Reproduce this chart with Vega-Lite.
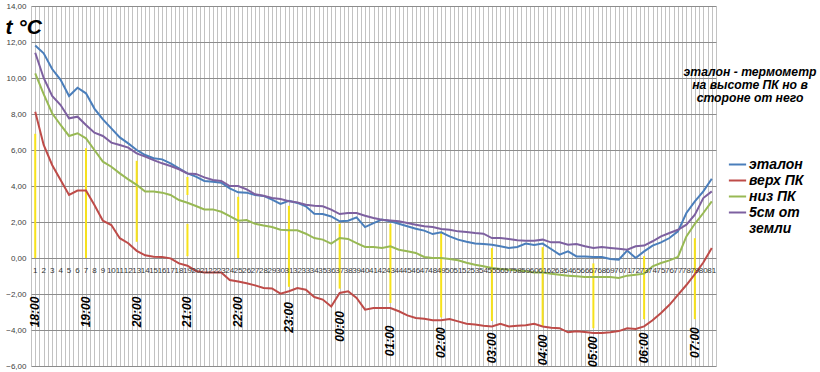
{
  "$schema": "https://vega.github.io/schema/vega-lite/v6.json",
  "autosize": {"type": "none"},
  "padding": {"left": 31, "top": 6, "right": 104, "bottom": 6},
  "width": 685,
  "height": 360,
  "background": "white",
  "config": {"view": {"stroke": null}, "font": "Liberation Sans"},
  "title": {
    "text": ["эталон - термометр", "на высоте ПК но в", "стороне от него"],
    "orient": "top",
    "anchor": "end",
    "align": "center",
    "frame": "group",
    "baseline": "top",
    "offset": 0,
    "dx": 34,
    "dy": 102,
    "font": "Liberation Sans",
    "fontSize": 12.2,
    "fontWeight": "bold",
    "fontStyle": "italic",
    "lineHeight": 13,
    "color": "#000000"
  },
  "datasets": {
    "temps": [
      {"n":1,"эталон":11.8,"верх ПК":8.13,"низ ПК":10.26,"5см от земли":11.4},
      {"n":2,"эталон":11.37,"верх ПК":6.28,"низ ПК":9.1,"5см от земли":10.0},
      {"n":3,"эталон":10.5,"верх ПК":5.17,"низ ПК":8.04,"5см от земли":9.0},
      {"n":4,"эталон":9.9,"верх ПК":4.33,"низ ПК":7.39,"5см от земли":8.5},
      {"n":5,"эталон":9.0,"верх ПК":3.5,"низ ПК":6.78,"5см от земли":7.76},
      {"n":6,"эталон":9.46,"верх ПК":3.75,"низ ПК":6.93,"5см от земли":7.85},
      {"n":7,"эталон":9.15,"верх ПК":3.75,"низ ПК":6.65,"5см от земли":7.39},
      {"n":8,"эталон":8.3,"верх ПК":2.94,"низ ПК":6.0,"5см от земли":6.96},
      {"n":9,"эталон":7.7,"верх ПК":2.07,"низ ПК":5.35,"5см от земли":6.78},
      {"n":10,"эталон":7.2,"верх ПК":1.83,"низ ПК":5.07,"5см от земли":6.41},
      {"n":11,"эталон":6.7,"верх ПК":1.1,"низ ПК":4.7,"5см от земли":6.28},
      {"n":12,"эталон":6.37,"верх ПК":0.82,"низ ПК":4.37,"5см от земли":6.13},
      {"n":13,"эталон":6.0,"верх ПК":0.4,"низ ПК":4.06,"5см от земли":5.81},
      {"n":14,"эталон":5.72,"верх ПК":0.15,"низ ПК":3.69,"5см от земли":5.63},
      {"n":15,"эталон":5.54,"верх ПК":0.07,"низ ПК":3.69,"5см от земли":5.44},
      {"n":16,"эталон":5.48,"верх ПК":0.06,"низ ПК":3.63,"5см от земли":5.26},
      {"n":17,"эталон":5.26,"верх ПК":-0.02,"низ ПК":3.5,"5см от земли":5.11},
      {"n":18,"эталон":4.98,"верх ПК":-0.3,"низ ПК":3.22,"5см от земли":4.93},
      {"n":19,"эталон":4.7,"верх ПК":-0.43,"низ ПК":3.07,"5см от земли":4.7},
      {"n":20,"эталон":4.52,"верх ПК":-0.72,"низ ПК":2.89,"5см от земли":4.67},
      {"n":21,"эталон":4.28,"верх ПК":-0.81,"низ ПК":2.7,"5см от земли":4.48},
      {"n":22,"эталон":4.24,"верх ПК":-0.81,"низ ПК":2.7,"5см от земли":4.33},
      {"n":23,"эталон":4.18,"верх ПК":-0.81,"низ ПК":2.57,"5см от земли":4.28},
      {"n":24,"эталон":3.87,"верх ПК":-1.22,"низ ПК":2.33,"5см от земли":4.0},
      {"n":25,"эталон":3.65,"верх ПК":-1.31,"низ ПК":2.07,"5см от земли":4.0},
      {"n":26,"эталон":3.63,"верх ПК":-1.4,"низ ПК":2.11,"5см от земли":3.81},
      {"n":27,"эталон":3.5,"верх ПК":-1.52,"низ ПК":1.9,"5см от земли":3.54},
      {"n":28,"эталон":3.45,"верх ПК":-1.67,"низ ПК":1.8,"5см от земли":3.46},
      {"n":29,"эталон":3.24,"верх ПК":-1.69,"низ ПК":1.72,"5см от земли":3.33},
      {"n":30,"эталон":3.0,"верх ПК":-1.98,"низ ПК":1.57,"5см от земли":3.28},
      {"n":31,"эталон":3.18,"верх ПК":-1.85,"низ ПК":1.54,"5см от земли":3.15},
      {"n":32,"эталон":3.06,"верх ПК":-1.67,"низ ПК":1.54,"5см от земли":3.09},
      {"n":33,"эталон":2.87,"верх ПК":-1.76,"низ ПК":1.35,"5см от земли":2.96},
      {"n":34,"эталон":2.46,"верх ПК":-2.17,"низ ПК":1.11,"5см от земли":2.9},
      {"n":35,"эталон":2.44,"верх ПК":-2.31,"низ ПК":1.02,"5см от земли":2.87},
      {"n":36,"эталон":2.31,"верх ПК":-2.69,"низ ПК":0.8,"5см от земли":2.69},
      {"n":37,"эталон":2.04,"верх ПК":-1.94,"низ ПК":1.11,"5см от земли":2.44},
      {"n":38,"эталон":2.07,"верх ПК":-1.85,"низ ПК":1.06,"5см от земли":2.5},
      {"n":39,"эталон":2.26,"верх ПК":-2.22,"низ ПК":0.83,"5см от земли":2.5},
      {"n":40,"эталон":1.72,"верх ПК":-2.87,"низ ПК":0.61,"5см от земли":2.35},
      {"n":41,"эталон":1.94,"верх ПК":-2.78,"низ ПК":0.61,"5см от земли":2.22},
      {"n":42,"эталон":2.13,"верх ПК":-2.78,"низ ПК":0.56,"5см от земли":2.13},
      {"n":43,"эталон":2.04,"верх ПК":-2.78,"низ ПК":0.65,"5см от земли":2.09},
      {"n":44,"эталон":1.9,"верх ПК":-2.96,"низ ПК":0.46,"5см от земли":2.04},
      {"n":45,"эталон":1.76,"верх ПК":-3.19,"низ ПК":0.37,"5см от земли":1.94},
      {"n":46,"эталон":1.63,"верх ПК":-3.33,"низ ПК":0.28,"5см от земли":1.85},
      {"n":47,"эталон":1.52,"верх ПК":-3.37,"низ ПК":0.06,"5см от земли":1.76},
      {"n":48,"эталон":1.33,"верх ПК":-3.46,"низ ПК":0.0,"5см от земли":1.72},
      {"n":49,"эталон":1.43,"верх ПК":-3.46,"низ ПК":0.0,"5см от земли":1.61},
      {"n":50,"эталон":1.2,"верх ПК":-3.39,"низ ПК":-0.06,"5см от земли":1.57},
      {"n":51,"эталон":1.02,"верх ПК":-3.52,"низ ПК":-0.13,"5см от земли":1.48},
      {"n":52,"эталон":0.9,"верх ПК":-3.65,"низ ПК":-0.26,"5см от земли":1.45},
      {"n":53,"эталон":0.8,"верх ПК":-3.7,"низ ПК":-0.37,"5см от земли":1.39},
      {"n":54,"эталон":0.78,"верх ПК":-3.76,"низ ПК":-0.46,"5см от земли":1.35},
      {"n":55,"эталон":0.74,"верх ПК":-3.8,"низ ПК":-0.56,"5см от земли":1.11},
      {"n":56,"эталон":0.65,"верх ПК":-3.65,"низ ПК":-0.61,"5см от земли":1.11},
      {"n":57,"эталон":0.56,"верх ПК":-3.8,"низ ПК":-0.65,"5см от земли":1.06},
      {"n":58,"эталон":0.61,"верх ПК":-3.76,"низ ПК":-0.69,"5см от земли":0.98},
      {"n":59,"эталон":0.8,"верх ПК":-3.74,"низ ПК":-0.74,"5см от земли":0.96},
      {"n":60,"эталон":0.72,"верх ПК":-3.65,"низ ПК":-0.8,"5см от земли":0.96},
      {"n":61,"эталон":0.8,"верх ПК":-3.8,"низ ПК":-0.8,"5см от земли":1.02},
      {"n":62,"эталон":0.5,"верх ПК":-3.87,"низ ПК":-0.87,"5см от земли":0.87},
      {"n":63,"эталон":0.19,"верх ПК":-3.9,"низ ПК":-0.93,"5см от земли":0.87},
      {"n":64,"эталон":0.37,"верх ПК":-4.13,"низ ПК":-0.98,"5см от земли":0.74},
      {"n":65,"эталон":0.09,"верх ПК":-4.07,"низ ПК":-1.02,"5см от земли":0.78},
      {"n":66,"эталон":0.09,"верх ПК":-4.11,"низ ПК":-1.06,"5см от земли":0.65},
      {"n":67,"эталон":0.06,"верх ПК":-4.17,"низ ПК":-1.06,"5см от земли":0.56},
      {"n":68,"эталон":0.06,"верх ПК":-4.17,"низ ПК":-1.06,"5см от земли":0.61},
      {"n":69,"эталон":-0.06,"верх ПК":-4.13,"низ ПК":-1.06,"5см от земли":0.56},
      {"n":70,"эталон":-0.09,"верх ПК":-4.06,"низ ПК":-1.11,"5см от земли":0.52},
      {"n":71,"эталон":0.41,"верх ПК":-3.9,"низ ПК":-0.98,"5см от земли":0.46},
      {"n":72,"эталон":0.0,"верх ПК":-3.94,"низ ПК":-0.93,"5см от земли":0.65},
      {"n":73,"эталон":0.37,"верх ПК":-3.8,"низ ПК":-0.87,"5см от земли":0.69},
      {"n":74,"эталон":0.69,"верх ПК":-3.46,"низ ПК":-0.46,"5см от земли":0.93},
      {"n":75,"эталон":0.87,"верх ПК":-3.06,"низ ПК":-0.28,"5см от земли":1.2},
      {"n":76,"эталон":1.11,"верх ПК":-2.6,"низ ПК":-0.13,"5см от земли":1.39},
      {"n":77,"эталон":1.48,"верх ПК":-2.05,"низ ПК":0.06,"5см от земли":1.57},
      {"n":78,"эталон":2.5,"верх ПК":-1.5,"низ ПК":1.2,"5см от земли":1.85},
      {"n":79,"эталон":3.15,"верх ПК":-0.9,"низ ПК":1.9,"5см от земли":2.41},
      {"n":80,"эталон":3.7,"верх ПК":-0.25,"низ ПК":2.5,"5см от земли":3.33},
      {"n":81,"эталон":4.4,"верх ПК":0.55,"низ ПК":3.15,"5см от земли":3.7}
    ],
    "marks": [
      {"n":1,"lo":0,"hi":6.9},
      {"n":7,"lo":0,"hi":6.1},
      {"n":13,"lo":0.9,"hi":5.4},
      {"n":19,"lo":3.5,"hi":4.5},
      {"n":19,"lo":0.1,"hi":1.9},
      {"n":25,"lo":0,"hi":3.4},
      {"n":31,"lo":-1.6,"hi":2.9},
      {"n":37,"lo":-1.7,"hi":1.9},
      {"n":43,"lo":-2.5,"hi":1.9},
      {"n":49,"lo":-3.3,"hi":1.4},
      {"n":55,"lo":-3.5,"hi":0.55},
      {"n":61,"lo":-3.8,"hi":0.6},
      {"n":67,"lo":-3.9,"hi":-0.3},
      {"n":73,"lo":-3.4,"hi":0.1},
      {"n":79,"lo":-3.4,"hi":1.1}
    ],
    "times": [
      {"n":1,"time":"18:00","ly":-3.0},
      {"n":7,"time":"19:00","ly":-3.0},
      {"n":13,"time":"20:00","ly":-3.0},
      {"n":19,"time":"21:00","ly":-3.0},
      {"n":25,"time":"22:00","ly":-3.0},
      {"n":31,"time":"23:00","ly":-3.3},
      {"n":37,"time":"00:00","ly":-3.8},
      {"n":43,"time":"01:00","ly":-4.6},
      {"n":49,"time":"02:00","ly":-4.7},
      {"n":55,"time":"03:00","ly":-5.0},
      {"n":61,"time":"04:00","ly":-5.1},
      {"n":67,"time":"05:00","ly":-5.2},
      {"n":73,"time":"06:00","ly":-5.0},
      {"n":79,"time":"07:00","ly":-4.7}
    ]
  },
  "layer": [
    {
      "data": {"name": "marks"},
      "mark": {"type": "rule", "color": "#f7e21b", "strokeWidth": 2},
      "encoding": {
        "x": {
          "field": "n", "type": "quantitative",
          "scale": {"domain": [0.5, 81.5], "nice": false, "zero": false},
          "axis": {
            "orient": "bottom", "title": null, "labels": false, "ticks": false, "domain": false,
            "grid": true, "gridColor": "#c2c2c2", "gridWidth": 1, "tickCount": 400,
            "values": [0.5,1,1.5,2,2.5,3,3.5,4,4.5,5,5.5,6,6.5,7,7.5,8,8.5,9,9.5,10,10.5,11,11.5,12,12.5,13,13.5,14,14.5,15,15.5,16,16.5,17,17.5,18,18.5,19,19.5,20,20.5,21,21.5,22,22.5,23,23.5,24,24.5,25,25.5,26,26.5,27,27.5,28,28.5,29,29.5,30,30.5,31,31.5,32,32.5,33,33.5,34,34.5,35,35.5,36,36.5,37,37.5,38,38.5,39,39.5,40,40.5,41,41.5,42,42.5,43,43.5,44,44.5,45,45.5,46,46.5,47,47.5,48,48.5,49,49.5,50,50.5,51,51.5,52,52.5,53,53.5,54,54.5,55,55.5,56,56.5,57,57.5,58,58.5,59,59.5,60,60.5,61,61.5,62,62.5,63,63.5,64,64.5,65,65.5,66,66.5,67,67.5,68,68.5,69,69.5,70,70.5,71,71.5,72,72.5,73,73.5,74,74.5,75,75.5,76,76.5,77,77.5,78,78.5,79,79.5,80,80.5,81,81.5]
          }
        },
        "y": {
          "field": "lo", "type": "quantitative",
          "scale": {"domain": [-6, 14], "nice": false, "zero": false},
          "axis": {
            "title": "t °C", "titleAngle": 0, "titleAlign": "left", "titleBaseline": "alphabetic",
            "titleX": -26, "titleY": 27, "titleFont": "Liberation Sans", "titleFontSize": 21,
            "titleFontWeight": "bold", "titleFontStyle": "italic", "titleColor": "#000000",
            "values": [-6,-4,-2,0,2,4,6,8,10,12,14], "tickCount": 50,
            "labelExpr": "replace(format(datum.value, '.2f'), '.', ',')",
            "labelOverlap": false,
            "labelFont": "Liberation Sans", "labelFontSize": 8, "labelColor": "#404040", "labelPadding": 5,
            "ticks": false, "domain": false, "grid": true, "gridColor": "#8c8c8c", "gridWidth": 1
          }
        },
        "y2": {"field": "hi"}
      }
    },
    {
      "data": {"name": "temps"},
      "transform": [{"fold": ["эталон", "верх ПК", "низ ПК", "5см от земли"], "as": ["series", "t"]}],
      "mark": {"type": "line", "strokeWidth": 2},
      "encoding": {
        "x": {"field": "n", "type": "quantitative"},
        "y": {"field": "t", "type": "quantitative"},
        "color": {
          "field": "series", "type": "nominal",
          "scale": {"domain": ["эталон", "верх ПК", "низ ПК", "5см от земли"], "range": ["#4a7ebb", "#be4b48", "#98b954", "#7d60a0"]},
          "legend": {
            "title": null, "orient": "none", "legendX": 698, "legendY": 150,
            "symbolType": "M-1.15,0L1.15,0", "symbolSize": 225, "symbolStrokeWidth": 2,
            "labelFont": "Liberation Sans", "labelFontSize": 14, "labelFontWeight": "bold", "labelFontStyle": "italic",
            "labelColor": "#000000", "labelOffset": 3, "rowPadding": -2, "labelLimit": 200,
            "labelExpr": "datum.label == '5см от земли' ? ['5см от', 'земли'] : datum.label"
          }
        }
      }
    },
    {
      "data": {"name": "temps"},
      "mark": {"type": "text", "fontSize": 8, "font": "Liberation Sans", "color": "#333333", "dy": 12.5, "baseline": "middle", "align": "center"},
      "encoding": {
        "x": {"field": "n", "type": "quantitative"},
        "y": {"datum": 0},
        "text": {"field": "n", "type": "quantitative"}
      }
    },
    {
      "data": {"name": "times"},
      "mark": {"type": "text", "angle": 270, "fontSize": 12, "fontWeight": "bold", "fontStyle": "italic", "font": "Liberation Sans", "color": "#000000", "align": "center", "baseline": "middle"},
      "encoding": {
        "x": {"field": "n", "type": "quantitative"},
        "y": {"field": "ly", "type": "quantitative"},
        "text": {"field": "time", "type": "nominal"}
      }
    }
  ]
}
